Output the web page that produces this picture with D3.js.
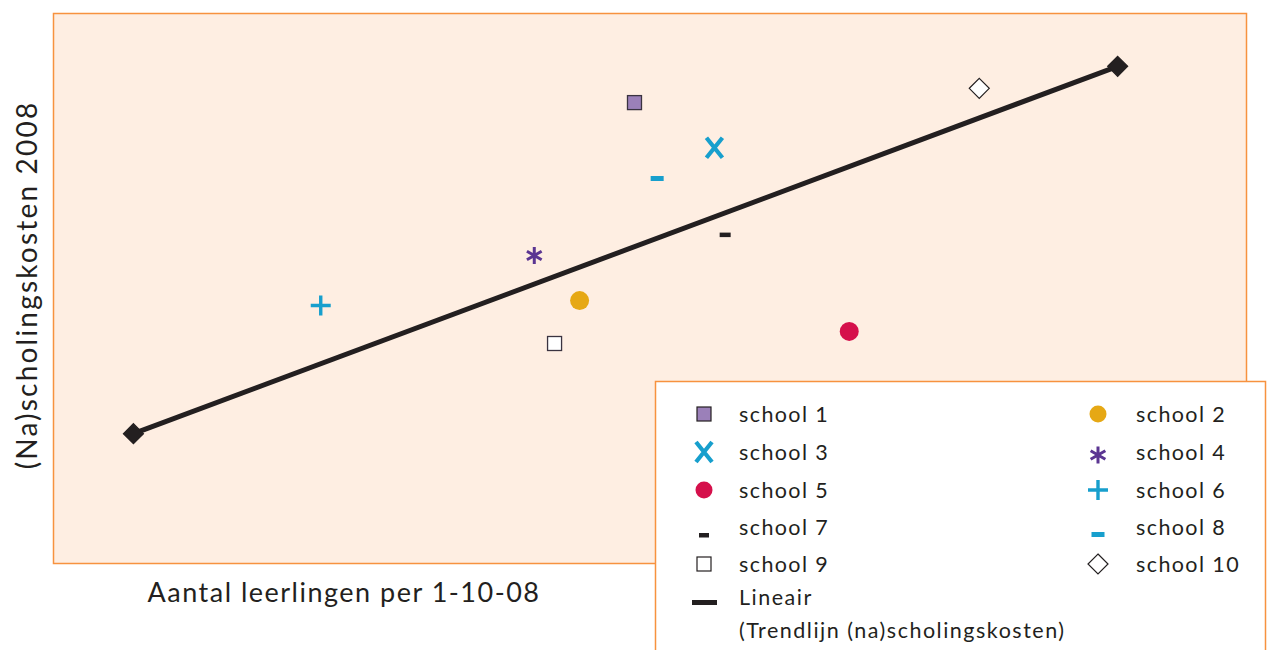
<!DOCTYPE html>
<html>
<head>
<meta charset="utf-8">
<script src="https://cdn.jsdelivr.net/npm/d3@7"></script>
<style>
  html, body { margin: 0; padding: 0; background: #fff; }
  svg { display: block; font-family: Lato, "Open Sans", sans-serif; }
</style>
</head>
<body>
<div id="chart"></div>
<script>
// Schools, in legend order. Values are unitless positions
// (no axis ticks are shown in the original), 0–100 on both axes.
const SCHOOLS = ["school 1", "school 2", "school 3", "school 4", "school 5",
                 "school 6", "school 7", "school 8", "school 9", "school 10"];
const LEERLINGEN = [48.7, 44.1, 55.4, 40.3, 66.7, 22.4, 56.3, 50.6, 42.0, 77.6];
const KOSTEN     = [83.8, 47.8, 75.6, 56.0, 42.2, 46.9, 59.8, 70.0, 40.0, 86.4];
const SHAPES = ["square", "circle", "x", "asterisk", "circle",
                "plus", "dash", "dash", "square", "diamond"];
const FILLS = ["#9b80b9", "#e6a814", "#179fcd", "#5b3592", "#d5104b",
               "#179fcd", "#231f20", "#179fcd", "#ffffff", "#ffffff"];

// Trendline end points (drawn with diamond markers at each end)
const TREND_X = [6.7, 89.2];
const TREND_Y = [23.6, 90.4];

const X_LABEL = "Aantal leerlingen per 1-10-08";
const Y_LABEL = "(Na)scholingskosten 2008";
const TREND_LABEL = ["Lineair", "(Trendlijn (na)scholingskosten)"];

const W = 1272, H = 650;
const plot = { left: 53.5, top: 13.5, right: 1246.5, bottom: 563.5 };
const ORANGE = "#f7923f";

const svg = d3.select("#chart").append("svg")
  .attr("width", W).attr("height", H)
  .attr("viewBox", `0 0 ${W} ${H}`);

const x = d3.scaleLinear().domain([0, 100]).range([plot.left, plot.right]);
const y = d3.scaleLinear().domain([0, 100]).range([plot.bottom, plot.top]);

svg.append("rect")
  .attr("x", plot.left).attr("y", plot.top)
  .attr("width", plot.right - plot.left).attr("height", plot.bottom - plot.top)
  .attr("fill", "#feeee2")
  .attr("stroke", ORANGE).attr("stroke-width", 1.5);

// draws one marker of the given shape centred at 0,0 inside g
function drawMarker(g, shape, fill) {
  if (shape === "square") {
    g.append("rect").attr("x", -7).attr("y", -7).attr("width", 14).attr("height", 14)
      .attr("fill", fill).attr("stroke", "#3a3340").attr("stroke-width", 1.3);
  } else if (shape === "circle") {
    g.append("circle").attr("r", 9.5).attr("fill", fill);
  } else if (shape === "diamond") {
    g.append("path").attr("d", "M0,-10L10,0L0,10L-10,0Z")
      .attr("fill", fill).attr("stroke", "#231f20").attr("stroke-width", 1.2);
  } else if (shape === "x") {
    g.append("path").attr("d", "M-8,-10L8,10M8,-10L-8,10")
      .attr("stroke", fill).attr("stroke-width", 4.2).attr("fill", "none");
  } else if (shape === "plus") {
    g.append("path").attr("d", "M-10,0L10,0M0,-10L0,10")
      .attr("stroke", fill).attr("stroke-width", 3.4).attr("fill", "none");
  } else if (shape === "asterisk") {
    const r = 8.5;
    const d = d3.range(3).map((i) => {
      const a = Math.PI / 2 + i * Math.PI / 3;
      const dx = r * Math.cos(a), dy = r * Math.sin(a);
      return `M${-dx},${-dy}L${dx},${dy}`;
    }).join("");
    g.append("path").attr("d", d)
      .attr("stroke", fill).attr("stroke-width", 3).attr("fill", "none");
  } else if (shape === "dash") {
    g.append("rect").attr("x", -6).attr("y", -2.5).attr("width", 12).attr("height", 5)
      .attr("fill", fill);
  }
}

// trendline
svg.append("line")
  .attr("x1", x(TREND_X[0])).attr("y1", y(TREND_Y[0]))
  .attr("x2", x(TREND_X[1])).attr("y2", y(TREND_Y[1]))
  .attr("stroke", "#231f20").attr("stroke-width", 5);

TREND_X.forEach((tx, i) => {
  const g = svg.append("g").attr("transform", `translate(${x(tx)},${y(TREND_Y[i])})`);
  drawMarker(g, "diamond", "#231f20");
});

// schools
SCHOOLS.forEach((name, i) => {
  const g = svg.append("g")
    .attr("transform", `translate(${x(LEERLINGEN[i])},${y(KOSTEN[i])})`);
  const shape = SHAPES[i];
  if (shape === "dash" && i === 6) {
    g.append("rect").attr("x", -5.5).attr("y", -2).attr("width", 11).attr("height", 4.5)
      .attr("fill", FILLS[i]);
  } else if (shape === "dash") {
    g.append("rect").attr("x", -6.5).attr("y", -2.5).attr("width", 13).attr("height", 5)
      .attr("fill", FILLS[i]);
  } else {
    drawMarker(g, shape, FILLS[i]);
  }
});

// axis titles
svg.append("text")
  .attr("transform", `translate(37,${285}) rotate(-90)`)
  .attr("text-anchor", "middle")
  .attr("font-size", 28).attr("letter-spacing", 2.2).attr("fill", "#231f20")
  .text(Y_LABEL);

svg.append("text")
  .attr("x", 344).attr("y", 602)
  .attr("text-anchor", "middle")
  .attr("font-size", 27).attr("letter-spacing", 1.5).attr("fill", "#231f20")
  .text(X_LABEL);

// legend box
const legend = svg.append("g");
legend.append("rect")
  .attr("x", 655.5).attr("y", 381.5).attr("width", 610).attr("height", 300)
  .attr("fill", "#fff").attr("stroke", ORANGE).attr("stroke-width", 1.5);

const ROW_Y = [414, 452, 490, 527, 564];
SCHOOLS.forEach((name, i) => {
  const col = i % 2, row = Math.floor(i / 2);
  const mx = col === 0 ? 704 : 1098;
  const tx = col === 0 ? 739 : 1136;
  const my = ROW_Y[row];
  const g = legend.append("g").attr("transform", `translate(${mx},${my})`);
  const shape = SHAPES[i];
  if (shape === "square") {
    g.append("rect").attr("x", -7).attr("y", -7).attr("width", 14).attr("height", 14)
      .attr("fill", FILLS[i]).attr("stroke", "#231f20").attr("stroke-width", 1.2);
  } else if (shape === "dash" && i === 6) {
    g.append("rect").attr("x", -5).attr("y", 6).attr("width", 10).attr("height", 4.5)
      .attr("fill", FILLS[i]);
  } else if (shape === "dash") {
    g.append("rect").attr("x", -6.5).attr("y", 5).attr("width", 13).attr("height", 5)
      .attr("fill", FILLS[i]);
  } else if (shape === "asterisk") {
    g.attr("transform", `translate(${mx},${my + 3})`);
    drawMarker(g, shape, FILLS[i]);
  } else if (shape === "circle") {
    g.append("circle").attr("r", 8.5).attr("fill", FILLS[i]);
  } else {
    drawMarker(g, shape, FILLS[i]);
  }
  legend.append("text")
    .attr("x", tx).attr("y", my + 8)
    .attr("font-size", 21.5).attr("letter-spacing", 1.4).attr("fill", "#231f20")
    .text(name);
});

legend.append("rect")
  .attr("x", 692).attr("y", 600).attr("width", 25).attr("height", 5)
  .attr("fill", "#231f20");
TREND_LABEL.forEach((t, i) => {
  legend.append("text")
    .attr("x", 739).attr("y", 605 + i * 33)
    .attr("font-size", 21.5).attr("letter-spacing", 1.5).attr("fill", "#231f20")
    .text(t);
});
</script>
</body>
</html>
